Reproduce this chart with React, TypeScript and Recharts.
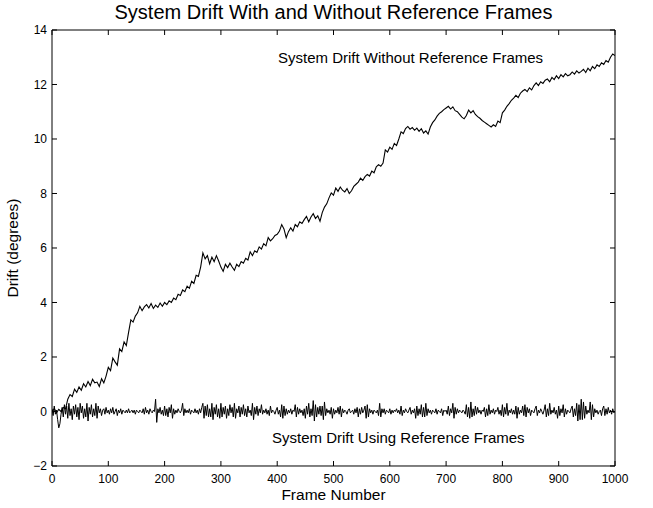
import React from 'react';
import { LineChart, Line, XAxis, YAxis } from 'recharts';

// ---- data ----
const xTicks = [0, 100, 200, 300, 400, 500, 600, 700, 800, 900, 1000];
const yTicks = [-2, 0, 2, 4, 6, 8, 10, 12, 14];

const title = 'System Drift With and Without Reference Frames';
const xLabel = 'Frame Number';
const yLabel = 'Drift (degrees)';
const noteWithout = 'System Drift Without Reference Frames';
const noteUsing = 'System Drift Using Reference Frames';

// drift without reference frames, one value every 4 frames (0..1000)
const driftStep = 4;
const driftWithout = [
  0.0, 0.1, -0.05, 0.08, 0.0, 0.15, 0.1, 0.45, 0.62, 0.55,
  0.82, 0.7, 0.9, 0.78, 1.02, 0.9, 1.1, 0.95, 1.18, 1.05,
  1.08, 0.92, 1.2, 1.05, 1.3, 1.62, 1.5, 1.96, 1.82, 1.7,
  2.3, 2.2, 2.55, 2.42, 2.9, 3.36, 3.28, 3.5, 3.62, 3.86,
  3.7, 3.84, 3.92, 3.8, 3.96, 3.78, 3.9, 3.82, 3.98, 3.86,
  4.0, 3.92, 4.06, 4.0, 4.16, 4.1, 4.3, 4.26, 4.46, 4.4,
  4.6, 4.52, 4.78, 4.7, 5.0, 4.96, 5.3, 5.82, 5.6, 5.72,
  5.42, 5.66, 5.5, 5.72, 5.52, 5.3, 5.14, 5.4, 5.28, 5.44,
  5.3, 5.18, 5.4, 5.32, 5.5, 5.44, 5.62, 5.56, 5.86, 5.72,
  5.9, 5.84, 6.04, 5.96, 6.16, 6.08, 6.38, 6.26, 6.34, 6.46,
  6.5, 6.62, 6.86, 6.7, 6.38, 6.6, 6.74, 6.62, 6.86, 6.78,
  6.96, 6.9, 7.04, 7.16, 6.96, 7.14, 7.26, 7.08, 7.18, 6.98,
  7.3, 7.5, 7.62, 7.84, 8.02, 7.94, 8.2, 8.08, 8.24, 8.12,
  8.06, 8.18, 8.0, 8.1, 8.26, 8.34, 8.42, 8.56, 8.48, 8.62,
  8.7, 8.64, 8.82, 8.76, 8.98, 9.06, 9.0, 9.12, 9.6, 9.52,
  9.7, 9.62, 9.84, 9.76, 10.0, 10.26, 10.2, 10.38, 10.46, 10.36,
  10.42, 10.32, 10.4, 10.28, 10.38, 10.22, 10.3, 10.18, 10.44, 10.6,
  10.7, 10.84, 10.94, 11.0, 11.08, 11.14, 11.2, 11.1, 11.18, 11.04,
  11.0, 10.9, 10.8, 10.74, 10.86, 11.06, 10.96, 11.04, 10.9, 10.82,
  10.76, 10.68, 10.62, 10.56, 10.5, 10.44, 10.52, 10.46, 10.66, 10.6,
  10.96, 11.06, 11.2, 11.3, 11.42, 11.5, 11.6, 11.52, 11.68, 11.76,
  11.82, 11.74, 11.88, 11.8, 11.96, 12.06, 11.96, 12.1, 12.04, 12.16,
  12.2, 12.1, 12.26, 12.18, 12.32, 12.22, 12.36, 12.28, 12.4, 12.32,
  12.36, 12.46, 12.38, 12.5, 12.42, 12.48, 12.56, 12.44, 12.6, 12.5,
  12.66, 12.58, 12.72, 12.66, 12.8, 12.74, 12.88, 12.82, 13.0, 13.12,
  13.06,
];

// drift using reference frames, one value every 2 frames (0..1000)
const refStep = 2;
const driftUsing = [
  0.1, -0.15, 0.2, -0.1, 0.05, -0.3, -0.6, -0.45, -0.1, 0.15,
  -0.2, 0.25, -0.1, 0.2, -0.25, 0.3, -0.15, 0.1, -0.3, 0.2,
  -0.1, 0.25, -0.2, 0.15, -0.3, 0.3, -0.05, 0.2, -0.25, 0.1,
  -0.2, 0.3, -0.35, 0.15, -0.1, 0.25, -0.2, 0.1, -0.15, 0.3,
  -0.25, 0.2, -0.05, 0.1, -0.15, 0.05, 0.1, -0.1, 0.15, -0.05,
  0.05, -0.1, 0.1, -0.05, 0.15, -0.1, 0.0, 0.1, -0.15, 0.05,
  -0.05, 0.1, -0.1, 0.05, 0.0, -0.05, 0.05, -0.05, 0.1, -0.05,
  0.0, 0.05, -0.05, 0.05, -0.1, 0.05, 0.0, -0.05, 0.05, 0.0,
  -0.05, 0.1, -0.1, 0.15, -0.05, 0.05, -0.1, 0.1, 0.0, -0.05,
  0.05, 0.0, 0.45, -0.4, 0.1, -0.05, 0.15, -0.1, 0.05, -0.15,
  0.2, -0.15, 0.1, -0.2, 0.15, -0.05, 0.25, -0.25, 0.1, -0.1,
  0.05, -0.05, 0.1, 0.0, -0.05, 0.05, 0.3, -0.15, 0.1, -0.05,
  0.05, -0.05, 0.1, -0.1, 0.05, 0.0, -0.05, 0.1, -0.05, 0.05,
  -0.1, 0.1, -0.05, 0.15, 0.3, -0.25, 0.2, -0.15, 0.25, -0.2,
  0.1, -0.2, 0.3, -0.3, 0.15, -0.1, 0.25, -0.2, 0.1, -0.25,
  0.3, -0.2, 0.15, -0.1, 0.2, -0.25, 0.1, -0.15, 0.25, -0.05,
  0.15, -0.2, 0.3, -0.25, 0.1, -0.05, 0.2, -0.2, 0.15, -0.1,
  0.25, -0.15, 0.1, -0.2, 0.2, -0.05, 0.05, -0.15, 0.3, -0.3,
  0.15, -0.1, 0.2, -0.15, 0.1, -0.05, 0.25, -0.1, 0.05, -0.05,
  0.1, -0.1, 0.05, -0.15, 0.2, -0.05, 0.05, 0.0, -0.1, 0.05,
  0.15, -0.1, 0.05, -0.2, 0.25, -0.25, 0.2, -0.15, 0.1, -0.1,
  0.05, -0.05, 0.1, -0.1, 0.05, 0.0, 0.25, -0.2, 0.15, -0.1,
  0.1, -0.05, 0.05, -0.15, 0.1, -0.25, 0.2, -0.1, 0.3, -0.2,
  0.1, -0.15, 0.4, -0.35, 0.25, -0.2, 0.15, -0.1, 0.2, -0.15,
  0.2, -0.3, 0.35, -0.15, 0.1, -0.05, 0.05, -0.1, 0.15, -0.25,
  0.1, -0.1, 0.05, -0.05, 0.15, -0.1, 0.2, -0.2, 0.1, -0.05,
  0.05, 0.0, -0.1, 0.05, 0.1, -0.05, 0.0, 0.05, -0.1, 0.1,
  -0.05, 0.15, -0.2, 0.1, -0.1, 0.15, -0.05, 0.05, 0.2, -0.25,
  0.25, -0.2, 0.1, -0.05, 0.05, -0.1, 0.05, 0.0, -0.05, 0.05,
  -0.15, 0.3, -0.2, 0.1, -0.05, 0.1, -0.1, 0.05, 0.0, -0.05,
  0.1, -0.1, 0.05, -0.05, 0.05, 0.0, 0.1, -0.05, 0.05, -0.1,
  0.2, -0.15, 0.05, -0.05, 0.1, 0.0, -0.05, 0.05, 0.15, -0.1,
  0.05, -0.05, 0.1, -0.25, 0.2, -0.15, 0.1, -0.1, 0.25, -0.2,
  0.15, -0.2, 0.3, -0.15, 0.1, -0.05, 0.05, -0.1, 0.05, 0.0,
  -0.05, 0.1, -0.1, 0.05, 0.0, -0.05, 0.1, -0.15, 0.05, 0.0,
  0.05, -0.1, 0.2, -0.15, 0.1, -0.05, 0.3, -0.25, 0.15, -0.1,
  0.1, -0.05, 0.05, 0.0, -0.05, 0.05, 0.0, -0.1, 0.25, -0.2,
  0.15, -0.25, 0.35, -0.2, 0.1, -0.15, 0.2, -0.1, 0.15, -0.05,
  0.05, -0.1, 0.05, 0.0, 0.15, -0.2, 0.1, -0.15, 0.25, -0.1,
  0.05, -0.05, 0.1, -0.1, 0.05, 0.0, 0.15, -0.1, 0.05, -0.15,
  0.25, -0.2, 0.15, -0.1, 0.3, -0.15, 0.05, -0.05, 0.1, -0.1,
  0.05, -0.1, 0.2, -0.25, 0.15, -0.1, 0.05, -0.05, 0.2, -0.15,
  0.25, -0.2, 0.15, -0.05, 0.1, -0.15, 0.05, 0.0, -0.05, 0.1,
  0.2, -0.15, 0.05, -0.05, 0.1, 0.0, -0.1, 0.05, 0.25, -0.2,
  0.1, -0.15, 0.3, -0.1, 0.05, -0.05, 0.15, -0.1, 0.05, -0.25,
  0.2, -0.15, 0.1, -0.05, 0.25, -0.2, 0.1, -0.1, 0.05, 0.0,
  -0.05, 0.1, 0.2, -0.2, 0.1, -0.15, 0.3, -0.35, 0.25, -0.3,
  0.45, -0.3, 0.35, -0.25, 0.2, -0.1, 0.05, -0.05, 0.35, -0.3,
  0.25, -0.2, 0.1, -0.05, 0.05, -0.1, 0.0, 0.05, -0.15, 0.1,
  0.2, -0.15, 0.1, -0.1, 0.15, -0.05, 0.05, -0.1, 0.1, -0.05,
  0.0,
];

const withoutRows = driftWithout.map((v, i) => ({ f: i * driftStep, v }));
const usingRows = driftUsing.map((v, i) => ({ f: i * refStep, v }));

// ---- layout ----
const W = 653;
const H = 508;
const M = { top: 30, right: 38, bottom: 42, left: 52 };
const THIN = 0.01;
const FONT = '"Liberation Sans", Arial, Helvetica, sans-serif';
const tickFont = { fontSize: 12, fill: '#000', fontFamily: FONT };
const fmtY = (v: number) => (v < 0 ? '\u2212' + Math.abs(v) : String(v));
const NoLabel = () => <g />;

export default function App() {
  const plotCX = (M.left + (W - M.right)) / 2;
  const plotCY = (M.top + (H - M.bottom)) / 2;
  return (
    <div style={{ position: 'absolute', left: 0, top: 0, width: W, height: H, background: '#fff' }}>
      <LineChart width={W} height={H} margin={M}>
        <XAxis
          xAxisId="b"
          dataKey="f"
          type="number"
          domain={[0, 1000]}
          ticks={xTicks}
          allowDataOverflow
          height={THIN}
          tickSize={0}
          tickMargin={8}
          tickLine={false}
          axisLine={{ stroke: '#000' }}
          tick={tickFont}
        />
        <XAxis
          xAxisId="bm"
          dataKey="f"
          type="number"
          domain={[0, 1000]}
          ticks={xTicks}
          allowDataOverflow
          height={THIN}
          mirror
          tick={NoLabel}
          tickSize={5}
          axisLine={false}
          tickLine={{ stroke: '#000' }}
        />
        <XAxis
          xAxisId="t"
          dataKey="f"
          orientation="top"
          type="number"
          domain={[0, 1000]}
          ticks={xTicks}
          allowDataOverflow
          height={THIN}
          mirror
          tick={NoLabel}
          tickSize={5}
          axisLine={{ stroke: '#000' }}
          tickLine={{ stroke: '#000' }}
        />
        <YAxis
          yAxisId="l"
          type="number"
          domain={[-2, 14]}
          ticks={yTicks}
          allowDataOverflow
          width={THIN}
          tickSize={0}
          tickMargin={5}
          tickLine={false}
          axisLine={{ stroke: '#000' }}
          tick={tickFont}
          tickFormatter={fmtY}
        />
        <YAxis
          yAxisId="lm"
          type="number"
          domain={[-2, 14]}
          ticks={yTicks}
          allowDataOverflow
          width={THIN}
          mirror
          tick={NoLabel}
          tickSize={5}
          axisLine={false}
          tickLine={{ stroke: '#000' }}
        />
        <YAxis
          yAxisId="r"
          orientation="right"
          type="number"
          domain={[-2, 14]}
          ticks={yTicks}
          allowDataOverflow
          width={THIN}
          mirror
          tick={NoLabel}
          tickSize={5}
          axisLine={{ stroke: '#000' }}
          tickLine={{ stroke: '#000' }}
        />
        <Line
          xAxisId="b"
          yAxisId="l"
          data={usingRows}
          dataKey="v"
          type="linear"
          stroke="#000"
          strokeWidth={1}
          dot={false}
          isAnimationActive={false}
        />
        <Line
          xAxisId="b"
          yAxisId="l"
          data={withoutRows}
          dataKey="v"
          type="linear"
          stroke="#000"
          strokeWidth={1.1}
          dot={false}
          isAnimationActive={false}
        />
      </LineChart>
      <svg
        width={W}
        height={H}
        style={{ position: 'absolute', left: 0, top: 0, pointerEvents: 'none' }}
        fontFamily={FONT}
      >
        <text x={plotCX} y={19} textAnchor="middle" fontSize={20} fill="#000">{title}</text>
        <text x={plotCX} y={500} textAnchor="middle" fontSize={15.5} fill="#000">{xLabel}</text>
        <text
          x={0}
          y={0}
          transform={`translate(18, ${plotCY}) rotate(-90)`}
          textAnchor="middle"
          fontSize={15.5}
          fill="#000"
        >
          {yLabel}
        </text>
        <text x={278} y={63} fontSize={15} fill="#000">{noteWithout}</text>
        <text x={272} y={443} fontSize={15} fill="#000">{noteUsing}</text>
      </svg>
    </div>
  );
}
